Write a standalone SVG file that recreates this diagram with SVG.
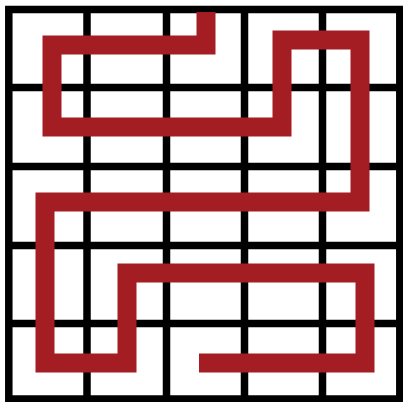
<svg xmlns="http://www.w3.org/2000/svg" width="403" height="402" viewBox="0 0 403 402">
<style>
.grid{stroke:#000;stroke-width:7.5;fill:none}
.path{stroke:#a31d23;stroke-width:19;fill:none;stroke-linejoin:miter;stroke-linecap:butt}
</style>
<rect width="403" height="402" fill="#fff"/>
<g id="grid">
<rect class="grid" x="8.8" y="9.5" width="391" height="389.5"/>
<line class="grid" x1="87" y1="9" x2="87" y2="399"/>
<line class="grid" x1="166.5" y1="9" x2="166.5" y2="399"/>
<line class="grid" x1="244.5" y1="9" x2="244.5" y2="399"/>
<line class="grid" x1="322.5" y1="9" x2="322.5" y2="399"/>
<line class="grid" x1="9" y1="87.5" x2="400" y2="87.5"/>
<line class="grid" x1="9" y1="166.5" x2="400" y2="166.5"/>
<line class="grid" x1="9" y1="245.5" x2="400" y2="245.5"/>
<line class="grid" x1="9" y1="323.5" x2="400" y2="323.5"/>
</g>
<g id="connectors">
<polyline class="path" points="206,12 206,45 52,45 52,127 282,127 282,40 360,40 360,202 45,202 45,363 127,363 127,273 365,273 365,363 199,363"/>
</g>
</svg>
